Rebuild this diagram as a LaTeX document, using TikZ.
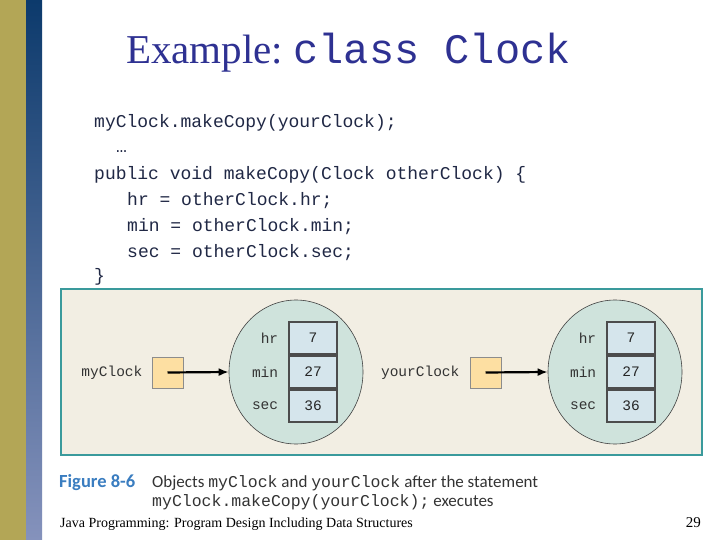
\documentclass[tikz,border=0pt]{standalone}
\usepackage{fontspec}
\setmainfont{Liberation Serif}
\setmonofont{Liberation Mono}
\newfontfamily\capfont{Carlito}
\usetikzlibrary{positioning,shapes.geometric,arrows.meta}

\definecolor{olivebar}{HTML}{B3A656}
\definecolor{navytop}{HTML}{0C3A6C}
\definecolor{navybot}{HTML}{8592BC}
\definecolor{titleblue}{HTML}{2E3192}
\definecolor{codeink}{HTML}{202845}
\definecolor{frameteal}{HTML}{3A9A9C}
\definecolor{framefill}{HTML}{F2EEE3}
\definecolor{objfill}{HTML}{CFE3DC}
\definecolor{valfill}{HTML}{D5E5EC}
\definecolor{reffill}{HTML}{FDDFA2}
\definecolor{figblue}{HTML}{3A7DC0}

\begin{document}
\begin{tikzpicture}[x=1pt, y=-1pt,
    code/.style={anchor=base west, inner sep=0pt, text=codeink,
      font=\fontsize{18}{20}\ttfamily},
    obj/.style={ellipse, draw=black!75, line width=0.6pt, fill=objfill,
      minimum width=134pt, minimum height=144pt, inner sep=0pt},
    valbox/.style={draw=black!70, line width=1.3pt, fill=valfill,
      minimum width=48pt, minimum height=32pt, inner sep=0pt,
      font=\fontsize{14.5}{16}\ttfamily, text=black!85},
    fld/.style={inner sep=0pt, font=\fontsize{14.5}{16}\ttfamily, text=black!80},
    refbox/.style={draw=black!45, line width=0.8pt, fill=reffill,
      minimum width=31pt, minimum height=31pt, inner sep=0pt},
    ptr/.style={-{Latex[length=10pt,width=8pt]}, line width=2.2pt}]
  \useasboundingbox (0,0) rectangle (720,540);
  \fill[white] (0,0) rectangle (720,540);
  % side bars
  \fill[olivebar] (0,0) rectangle (26,540);
  \shade[top color=navytop, bottom color=navybot] (26,0) rectangle (42,540);

  \node[anchor=base west, inner sep=0pt, text=titleblue,
    font=\fontsize{41}{44}\selectfont] (title) at (126,64)
    {Example:\ \texttt{\fontsize{42}{44}\selectfont class Clock}};

  % the code
  \node[code] (c1) at (94,128) {myClock.makeCopy(yourClock);};
  \node[code] (c2) at (116,153) {…};
  \node[code] (c3) at (94,180) {public void makeCopy(Clock otherClock) \{};
  \node[code] (c4) at (127,206) {hr = otherClock.hr;};
  \node[code] (c5) at (127,231) {min = otherClock.min;};
  \node[code] (c6) at (127,257) {sec = otherClock.sec;};
  \node[code] (c7) at (94,281) {\}};

  % the figure
  \draw[frameteal, line width=2.5pt, fill=framefill] (61,289) rectangle (702,455);

  \node[obj] (objA) at (296,372) {};
  \node[valbox] (hrA) at (313,338) {7};
  \node[valbox] (minA) at (313,372) {27};
  \node[valbox] (secA) at (313,406) {36};
  \node[fld, left=10pt of hrA] {hr};
  \node[fld, left=10pt of minA] {min};
  \node[fld, left=10pt of secA] {sec};
  \node[refbox] (sqA) at (167.5,372.5) {};
  \node[fld, left=9pt of sqA] (myClock) {myClock};
  \draw[ptr] (sqA.center) -- (objA.west);

  \node[obj] (objB) at (615,372) {};
  \node[valbox] (hrB) at (631,338) {7};
  \node[valbox] (minB) at (631,372) {27};
  \node[valbox] (secB) at (631,406) {36};
  \node[fld, left=10pt of hrB] {hr};
  \node[fld, left=10pt of minB] {min};
  \node[fld, left=10pt of secB] {sec};
  \node[refbox] (sqB) at (485.5,372.5) {};
  \node[fld, left=10pt of sqB] (yourClock) {yourClock};
  \draw[ptr] (sqB.center) -- (objB.west);

  % caption and footer
  \node[anchor=base west, inner sep=0pt, text=figblue,
    font=\fontsize{18.5}{20}\capfont\bfseries] (fig) at (59,487) {Figure 8-6};
  \node[anchor=base west, inner sep=0pt, text=black!80,
    font=\fontsize{17}{19}\capfont] (cap1) at (152,487)
    {Objects \texttt{\fontsize{16.5}{19}\selectfont myClock} and
     \texttt{\fontsize{16.5}{19}\selectfont yourClock} after the statement};
  \node[anchor=base west, inner sep=0pt, text=black!80,
    font=\fontsize{17}{19}\capfont] (cap2) at (152,506)
    {\texttt{\fontsize{16.5}{19}\selectfont myClock.makeCopy(yourClock);} executes};
  \node[anchor=base west, inner sep=0pt, font=\fontsize{14}{16}\selectfont] (foot)
    at (60,527) {Java Programming: Program Design Including Data Structures};
  \node[anchor=base east, inner sep=0pt, font=\fontsize{15}{16}\selectfont] (page)
    at (701,527) {29};
\end{tikzpicture}
\end{document}
